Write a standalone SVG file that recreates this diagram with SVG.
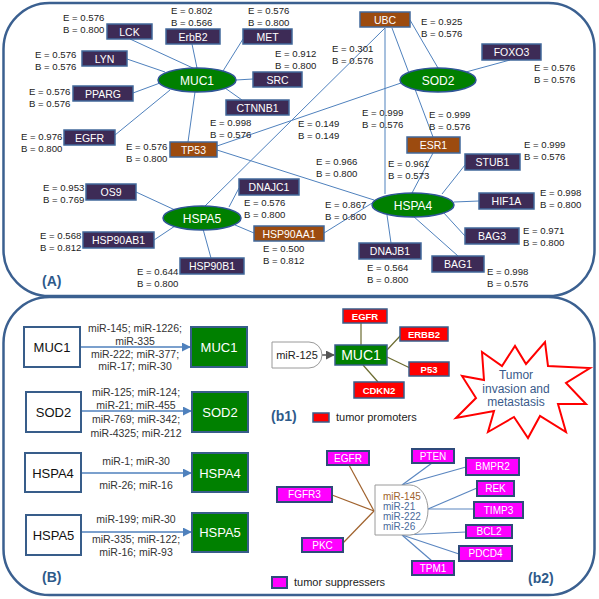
<svg xmlns="http://www.w3.org/2000/svg" width="599" height="599" viewBox="0 0 599 599">
<defs>
<style>
.panel{fill:#fff;stroke:#3b6090;stroke-width:2.5}
.pn{fill:#3d2b56;stroke:#41689b;stroke-width:1.5}
.br{fill:#9c4b0f;stroke:#41689b;stroke-width:1.5}
.el{fill:#008000;stroke:#2f5597;stroke-width:1.5}
.nt{font-family:"Liberation Sans",Arial,sans-serif;font-size:10.5px;fill:#fff;text-anchor:middle}
.et{font-family:"Liberation Sans",Arial,sans-serif;font-size:12px;fill:#fff;text-anchor:middle}
.lb{font-family:"Liberation Sans",Arial,sans-serif;font-size:9.6px;fill:#222}
.e{stroke:#4f81bd;stroke-width:1;fill:none}
.tag{font-family:"Liberation Sans",Arial,sans-serif;font-size:14px;font-weight:bold;fill:#2e5a8a}
.wb{fill:#fff;stroke:#385d8a;stroke-width:2}
.gb{fill:#008000;stroke:#385d8a;stroke-width:2}
.bt{font-family:"Liberation Sans",Arial,sans-serif;font-size:13px;fill:#111;text-anchor:middle}
.gt{font-family:"Liberation Sans",Arial,sans-serif;font-size:13px;fill:#fff;text-anchor:middle}
.mi{font-family:"Liberation Sans",Arial,sans-serif;font-size:10.5px;fill:#333;text-anchor:middle}
.arr{stroke:#4f81bd;stroke-width:1.5;fill:none;marker-end:url(#ab)}
.rd{fill:#ff0000;stroke:#385d8a;stroke-width:1.5}
.mg{fill:#ff00ff;stroke:#2e4a7a;stroke-width:2}
.st{font-family:"Liberation Sans",Arial,sans-serif;font-size:9.5px;font-weight:bold;fill:#fff;text-anchor:middle}
.sm{font-family:"Liberation Sans",Arial,sans-serif;font-size:10px;fill:#fff;text-anchor:middle}
.ol{stroke:#6b6b2f;stroke-width:1.2;fill:none}
.bn{stroke:#a0622d;stroke-width:1.2;fill:none}
.bl{stroke:#5a86c0;stroke-width:1.2;fill:none}
.lg{font-family:"Liberation Sans",Arial,sans-serif;font-size:11px;fill:#222}
</style>
<marker id="ab" viewBox="0 0 10 10" refX="9" refY="5" markerWidth="6" markerHeight="6" orient="auto"><path d="M0,0 L10,5 L0,10 z" fill="#4f81bd"/></marker>
<marker id="ag" viewBox="0 0 10 10" refX="9" refY="5" markerWidth="6" markerHeight="6" orient="auto"><path d="M0,0 L10,5 L0,10 z" fill="#555"/></marker>
</defs>
<rect width="599" height="599" fill="#fff"/>
<rect class="panel" x="3.5" y="3" width="591" height="293" rx="46" ry="46"/>
<rect class="panel" x="3.5" y="297" width="591" height="298" rx="46" ry="46"/>

<!-- Panel A connectors -->
<g id="edges-A">
<line class="e" x1="130" y1="39" x2="195" y2="69"/>
<line class="e" x1="192" y1="44" x2="197" y2="68"/>
<line class="e" x1="243" y1="39" x2="223" y2="71"/>
<line class="e" x1="127" y1="59" x2="165" y2="72"/>
<line class="e" x1="236" y1="80" x2="253" y2="79"/>
<line class="e" x1="133" y1="93" x2="160" y2="83"/>
<line class="e" x1="225" y1="88" x2="242" y2="100"/>
<line class="e" x1="115" y1="135" x2="170" y2="90"/>
<line class="e" x1="195" y1="92" x2="188" y2="142"/>
<line class="e" x1="217" y1="146" x2="401" y2="83"/>
<line class="e" x1="217" y1="150" x2="374" y2="200"/>
<line class="e" x1="385" y1="28" x2="205" y2="206"/>
<line class="e" x1="385" y1="28" x2="385" y2="194"/>
<line class="e" x1="410" y1="20" x2="438" y2="68"/>
<line class="e" x1="392" y1="28" x2="433" y2="137"/>
<line class="e" x1="433" y1="153" x2="412" y2="193"/>
<line class="e" x1="442" y1="194" x2="465" y2="165"/>
<line class="e" x1="454" y1="202" x2="479" y2="201"/>
<line class="e" x1="443" y1="212" x2="465" y2="236"/>
<line class="e" x1="413" y1="216" x2="458" y2="256"/>
<line class="e" x1="387" y1="215" x2="391" y2="243"/>
<line class="e" x1="377" y1="200" x2="324" y2="233"/>
<line class="e" x1="229" y1="207" x2="239" y2="188"/>
<line class="e" x1="235" y1="225" x2="254" y2="233"/>
<line class="e" x1="136" y1="192" x2="175" y2="210"/>
<line class="e" x1="154" y1="240" x2="175" y2="226"/>
<line class="e" x1="203" y1="229" x2="211" y2="258"/>
<line class="e" x1="466" y1="72" x2="510" y2="60"/>
</g>

<!-- Panel A nodes -->
<g id="n-LCK"><rect class="pn" x="107" y="24" width="45" height="15"/><text class="nt" x="129.5" y="35.5">LCK</text></g>
<g id="n-ErbB2"><rect class="pn" x="166" y="29" width="54" height="15"/><text class="nt" x="193" y="40.5">ErbB2</text></g>
<g id="n-MET"><rect class="pn" x="243" y="29" width="49" height="15"/><text class="nt" x="267.5" y="40.5">MET</text></g>
<g id="n-LYN"><rect class="pn" x="82" y="51" width="45" height="15"/><text class="nt" x="104.5" y="62.5">LYN</text></g>
<g id="n-SRC"><rect class="pn" x="253" y="72" width="49" height="15"/><text class="nt" x="277.5" y="83.5">SRC</text></g>
<g id="n-PPARG"><rect class="pn" x="73" y="86" width="60" height="15"/><text class="nt" x="103" y="97.5">PPARG</text></g>
<g id="n-CTNNB1"><rect class="pn" x="226" y="100" width="63" height="15"/><text class="nt" x="257.5" y="111.5">CTNNB1</text></g>
<g id="n-EGFR"><rect class="pn" x="64" y="130" width="51" height="15"/><text class="nt" x="89.5" y="141.5">EGFR</text></g>
<g id="n-TP53"><rect class="br" x="170" y="142" width="47" height="15"/><text class="nt" x="193.5" y="153.5">TP53</text></g>
<g id="n-MUC1"><ellipse class="el" cx="197" cy="80" rx="39" ry="12"/><text class="et" x="197" y="84.5">MUC1</text></g>
<g id="n-UBC"><rect class="br" x="360" y="12" width="50" height="15"/><text class="nt" x="385" y="23.5">UBC</text></g>
<g id="n-FOXO3"><rect class="pn" x="482" y="44" width="59" height="16"/><text class="nt" x="511.5" y="56">FOXO3</text></g>
<g id="n-SOD2"><ellipse class="el" cx="438" cy="80" rx="38" ry="12"/><text class="et" x="438" y="84.5">SOD2</text></g>
<g id="n-ESR1"><rect class="br" x="407" y="137" width="53" height="16"/><text class="nt" x="433.5" y="149">ESR1</text></g>
<g id="n-STUB1"><rect class="pn" x="465" y="154" width="55" height="16"/><text class="nt" x="492.5" y="166">STUB1</text></g>
<g id="n-HIF1A"><rect class="pn" x="479" y="193" width="55" height="16"/><text class="nt" x="506.5" y="205">HIF1A</text></g>
<g id="n-BAG3"><rect class="pn" x="465" y="228" width="54" height="16"/><text class="nt" x="492" y="240">BAG3</text></g>
<g id="n-BAG1"><rect class="pn" x="432" y="256" width="52" height="16"/><text class="nt" x="458" y="268">BAG1</text></g>
<g id="n-HSPA4"><ellipse class="el" cx="413" cy="205" rx="41" ry="12"/><text class="et" x="413" y="209.5">HSPA4</text></g>
<g id="n-DNAJB1"><rect class="pn" x="359" y="243" width="62" height="16"/><text class="nt" x="390" y="255">DNAJB1</text></g>
<g id="n-HSP90AA1"><rect class="br" x="254" y="226" width="70" height="15"/><text class="nt" x="289" y="237.5">HSP90AA1</text></g>
<g id="n-DNAJC1"><rect class="pn" x="239" y="179" width="60" height="16"/><text class="nt" x="269" y="191">DNAJC1</text></g>
<g id="n-HSPA5"><ellipse class="el" cx="202" cy="218" rx="39" ry="12"/><text class="et" x="202" y="222.5">HSPA5</text></g>
<g id="n-OS9"><rect class="pn" x="86" y="184" width="50" height="16"/><text class="nt" x="111" y="196">OS9</text></g>
<g id="n-HSP90AB1"><rect class="pn" x="83" y="232" width="71" height="16"/><text class="nt" x="118.5" y="244">HSP90AB1</text></g>
<g id="n-HSP90B1"><rect class="pn" x="180" y="258" width="64" height="16"/><text class="nt" x="212" y="270">HSP90B1</text></g>

<!-- Panel A labels -->
<g id="labels-A">
<text class="lb" x="63" y="21">E = 0.576</text><text class="lb" x="63" y="33">B = 0.800</text>
<text class="lb" x="171" y="14">E = 0.802</text><text class="lb" x="171" y="26">B = 0.566</text>
<text class="lb" x="248" y="14">E = 0.576</text><text class="lb" x="248" y="26">B = 0.800</text>
<text class="lb" x="35" y="58">E = 0.576</text><text class="lb" x="35" y="70">B = 0.576</text>
<text class="lb" x="29" y="95">E = 0.576</text><text class="lb" x="29" y="107">B = 0.576</text>
<text class="lb" x="21" y="140">E = 0.976</text><text class="lb" x="21" y="152">B = 0.800</text>
<text class="lb" x="275" y="57">E = 0.912</text><text class="lb" x="275" y="69">B = 0.800</text>
<text class="lb" x="210" y="126">E = 0.998</text><text class="lb" x="210" y="138">B = 0.576</text>
<text class="lb" x="126" y="150">E = 0.576</text><text class="lb" x="126" y="162">B = 0.800</text>
<text class="lb" x="332" y="52">E = 0.301</text><text class="lb" x="332" y="64">B = 0.576</text>
<text class="lb" x="298" y="127">E = 0.149</text><text class="lb" x="298" y="139">B = 0.149</text>
<text class="lb" x="362" y="116">E = 0.999</text><text class="lb" x="362" y="128">B = 0.576</text>
<text class="lb" x="421" y="25">E = 0.925</text><text class="lb" x="421" y="37">B = 0.576</text>
<text class="lb" x="534" y="71">E = 0.576</text><text class="lb" x="534" y="83">B = 0.576</text>
<text class="lb" x="429" y="118">E = 0.999</text><text class="lb" x="429" y="130">B = 0.576</text>
<text class="lb" x="388" y="167">E = 0.961</text><text class="lb" x="388" y="179">B = 0.573</text>
<text class="lb" x="524" y="148">E = 0.999</text><text class="lb" x="524" y="160">B = 0.576</text>
<text class="lb" x="540" y="196">E = 0.998</text><text class="lb" x="540" y="208">B = 0.800</text>
<text class="lb" x="523" y="234">E = 0.971</text><text class="lb" x="523" y="246">B = 0.800</text>
<text class="lb" x="487" y="275">E = 0.998</text><text class="lb" x="487" y="287">B = 0.576</text>
<text class="lb" x="367" y="271">E = 0.564</text><text class="lb" x="367" y="283">B = 0.800</text>
<text class="lb" x="316" y="165">E = 0.966</text><text class="lb" x="316" y="177">B = 0.800</text>
<text class="lb" x="325" y="208">E = 0.867</text><text class="lb" x="325" y="220">B = 0.800</text>
<text class="lb" x="244" y="206">E = 0.576</text><text class="lb" x="244" y="218">B = 0.800</text>
<text class="lb" x="263" y="252">E = 0.500</text><text class="lb" x="263" y="264">B = 0.812</text>
<text class="lb" x="43" y="191">E = 0.953</text><text class="lb" x="43" y="203">B = 0.769</text>
<text class="lb" x="40" y="239">E = 0.568</text><text class="lb" x="40" y="251">B = 0.812</text>
<text class="lb" x="137" y="275">E = 0.644</text><text class="lb" x="137" y="287">B = 0.800</text>
<text class="tag" x="42" y="286">(A)</text>
</g>

<!-- Panel B -->
<g id="edges-B">
<line class="arr" x1="80" y1="347" x2="190" y2="347"/>
<line class="arr" x1="81" y1="411" x2="191" y2="411"/>
<line class="arr" x1="81" y1="473" x2="191" y2="473"/>
<line class="arr" x1="81" y1="532" x2="191" y2="532"/>
</g>
<g id="B-MUC1"><rect class="wb" x="24" y="327" width="56" height="40"/><text class="bt" x="52" y="352">MUC1</text></g>
<g id="B-MUC1g"><rect class="gb" x="191" y="327" width="56" height="40"/><text class="gt" x="219" y="352">MUC1</text></g>
<g id="B-SOD2"><rect class="wb" x="26" y="392" width="55" height="40"/><text class="bt" x="53.5" y="417">SOD2</text></g>
<g id="B-SOD2g"><rect class="gb" x="192" y="392" width="56" height="40"/><text class="gt" x="220" y="417">SOD2</text></g>
<g id="B-HSPA4"><rect class="wb" x="25" y="453" width="56" height="39"/><text class="bt" x="53" y="477.5">HSPA4</text></g>
<g id="B-HSPA4g"><rect class="gb" x="192" y="453" width="56" height="39"/><text class="gt" x="220" y="477.5">HSPA4</text></g>
<g id="B-HSPA5"><rect class="wb" x="26" y="515" width="55" height="40"/><text class="bt" x="53.5" y="540">HSPA5</text></g>
<g id="B-HSPA5g"><rect class="gb" x="192" y="513" width="56" height="39"/><text class="gt" x="220" y="537">HSPA5</text></g>
<g id="labels-B">
<text class="mi" x="135" y="332">miR-145; miR-1226;</text>
<text class="mi" x="135" y="345">miR-335</text>
<text class="mi" x="135" y="358">miR-222; miR-377;</text>
<text class="mi" x="135" y="370">miR-17; miR-30</text>
<text class="mi" x="136" y="396">miR-125; miR-124;</text>
<text class="mi" x="136" y="409">miR-21; miR-455</text>
<text class="mi" x="136" y="423">miR-769; miR-342;</text>
<text class="mi" x="136" y="437">miR-4325; miR-212</text>
<text class="mi" x="136" y="465">miR-1; miR-30</text>
<text class="mi" x="136" y="489">miR-26; miR-16</text>
<text class="mi" x="136" y="523">miR-199; miR-30</text>
<text class="mi" x="136" y="543">miR-335; miR-122;</text>
<text class="mi" x="136" y="556">miR-16; miR-93</text>
<text class="tag" x="42" y="582">(B)</text>
</g>

<!-- b1 -->
<g id="edges-b1">
<line x1="322" y1="355" x2="334" y2="355" stroke="#555" stroke-width="1.5" marker-end="url(#ag)"/>
<line class="ol" x1="361" y1="345" x2="361" y2="323"/>
<line class="ol" x1="387" y1="350" x2="401" y2="335"/>
<line class="ol" x1="387" y1="357" x2="410" y2="368"/>
<line class="ol" x1="363" y1="365" x2="378" y2="382"/>
</g>
<g id="b1-miR125"><path d="M272,342 H309 A13,13 0 0 1 309,368 H272 Z" fill="#fff" stroke="#9a9a9a" stroke-width="1"/><text x="297" y="359" font-family="Liberation Sans, Arial, sans-serif" font-size="11" fill="#222" text-anchor="middle">miR-125</text></g>
<g id="b1-MUC1"><rect class="gb" x="335" y="345" width="52" height="20" style="stroke-width:1.5"/><text class="gt" x="361" y="360" style="font-size:14px">MUC1</text></g>
<g id="b1-EGFR"><rect class="rd" x="343" y="309" width="44" height="14"/><text class="st" x="365" y="319.5">EGFR</text></g>
<g id="b1-ERBB2"><rect class="rd" x="400" y="327" width="48" height="14"/><text class="st" x="424" y="337.5">ERBB2</text></g>
<g id="b1-P53"><rect class="rd" x="409" y="362" width="40" height="14"/><text class="st" x="429" y="372.5">P53</text></g>
<g id="b1-CDKN2"><rect class="rd" x="354" y="382" width="50" height="16"/><text class="st" x="379" y="393.5">CDKN2</text></g>
<g id="b1-legend">
<text class="tag" x="271" y="421">(b1)</text>
<rect class="rd" x="313" y="413" width="16" height="9"/>
<text class="lg" x="336" y="421">tumor promoters</text>
</g>
<g id="starburst">
<polygon points="545,342 548,366 590,368 566,383 586,404 558,404 566,432 540,416 528,438 514,417 488,432 494,411 456,418 476,398 462,376 484,380 482,352 502,366 515,346 526,364" fill="#fff" stroke="#ff0000" stroke-width="2"/>
<text x="516" y="379" font-family="Liberation Sans, Arial, sans-serif" font-size="12" fill="#3a5a8a" text-anchor="middle">Tumor</text>
<text x="516" y="393" font-family="Liberation Sans, Arial, sans-serif" font-size="12" fill="#3a5a8a" text-anchor="middle">invasion and</text>
<text x="516" y="406" font-family="Liberation Sans, Arial, sans-serif" font-size="12" fill="#3a5a8a" text-anchor="middle">metastasis</text>
</g>

<!-- b2 -->
<g id="edges-b2">
<line class="bn" x1="374" y1="511" x2="349" y2="465"/>
<line class="bn" x1="374" y1="511" x2="332" y2="495"/>
<line class="bn" x1="374" y1="511" x2="343" y2="543"/>
<line class="bl" x1="402" y1="485" x2="432" y2="463"/>
<line class="bl" x1="402" y1="485" x2="466" y2="467"/>
<line class="bl" x1="428" y1="509" x2="477" y2="488"/>
<line class="bl" x1="428" y1="509" x2="474" y2="509"/>
<line class="bl" x1="402" y1="535" x2="466" y2="532"/>
<line class="bl" x1="402" y1="535" x2="459" y2="554"/>
<line class="bl" x1="402" y1="535" x2="432" y2="561"/>
</g>
<g id="b2-miR"><path d="M375,485 H410 A18,25 0 0 1 410,535 H375 Z" fill="#fff" stroke="#9a9a9a" stroke-width="1"/>
<text x="383" y="500" font-family="Liberation Sans, Arial, sans-serif" font-size="10" fill="#a0622d">miR-145</text>
<text x="383" y="510" font-family="Liberation Sans, Arial, sans-serif" font-size="10" fill="#4a6a9a">miR-21</text>
<text x="383" y="520" font-family="Liberation Sans, Arial, sans-serif" font-size="10" fill="#4a6a9a">miR-222</text>
<text x="383" y="530" font-family="Liberation Sans, Arial, sans-serif" font-size="10" fill="#4a6a9a">miR-26</text>
</g>
<g id="b2-EGFR"><rect class="mg" x="327" y="451" width="42" height="14"/><text class="sm" x="348" y="461.5">EGFR</text></g>
<g id="b2-FGFR3"><rect class="mg" x="277" y="487" width="55" height="15"/><text class="sm" x="304.5" y="498">FGFR3</text></g>
<g id="b2-PKC"><rect class="mg" x="302" y="538" width="41" height="14"/><text class="sm" x="322.5" y="548.5">PKC</text></g>
<g id="b2-PTEN"><rect class="mg" x="412" y="449" width="42" height="14"/><text class="sm" x="433" y="459.5">PTEN</text></g>
<g id="b2-BMPR2"><rect class="mg" x="466" y="458" width="53" height="17"/><text class="sm" x="492.5" y="470">BMPR2</text></g>
<g id="b2-REK"><rect class="mg" x="477" y="481" width="37" height="15"/><text class="sm" x="495.5" y="492">REK</text></g>
<g id="b2-TIMP3"><rect class="mg" x="474" y="502" width="49" height="16"/><text class="sm" x="498.5" y="513.5">TIMP3</text></g>
<g id="b2-BCL2"><rect class="mg" x="466" y="525" width="46" height="13"/><text class="sm" x="489" y="535">BCL2</text></g>
<g id="b2-PDCD4"><rect class="mg" x="459" y="546" width="53" height="15"/><text class="sm" x="485.5" y="557">PDCD4</text></g>
<g id="b2-TPM1"><rect class="mg" x="412" y="561" width="42" height="14"/><text class="sm" x="433" y="571.5">TPM1</text></g>
<g id="b2-legend">
<rect class="mg" x="272" y="577" width="15" height="11"/>
<text class="lg" x="294" y="586">tumor suppressers</text>
<text class="tag" x="528" y="583">(b2)</text>
</g>
</svg>
